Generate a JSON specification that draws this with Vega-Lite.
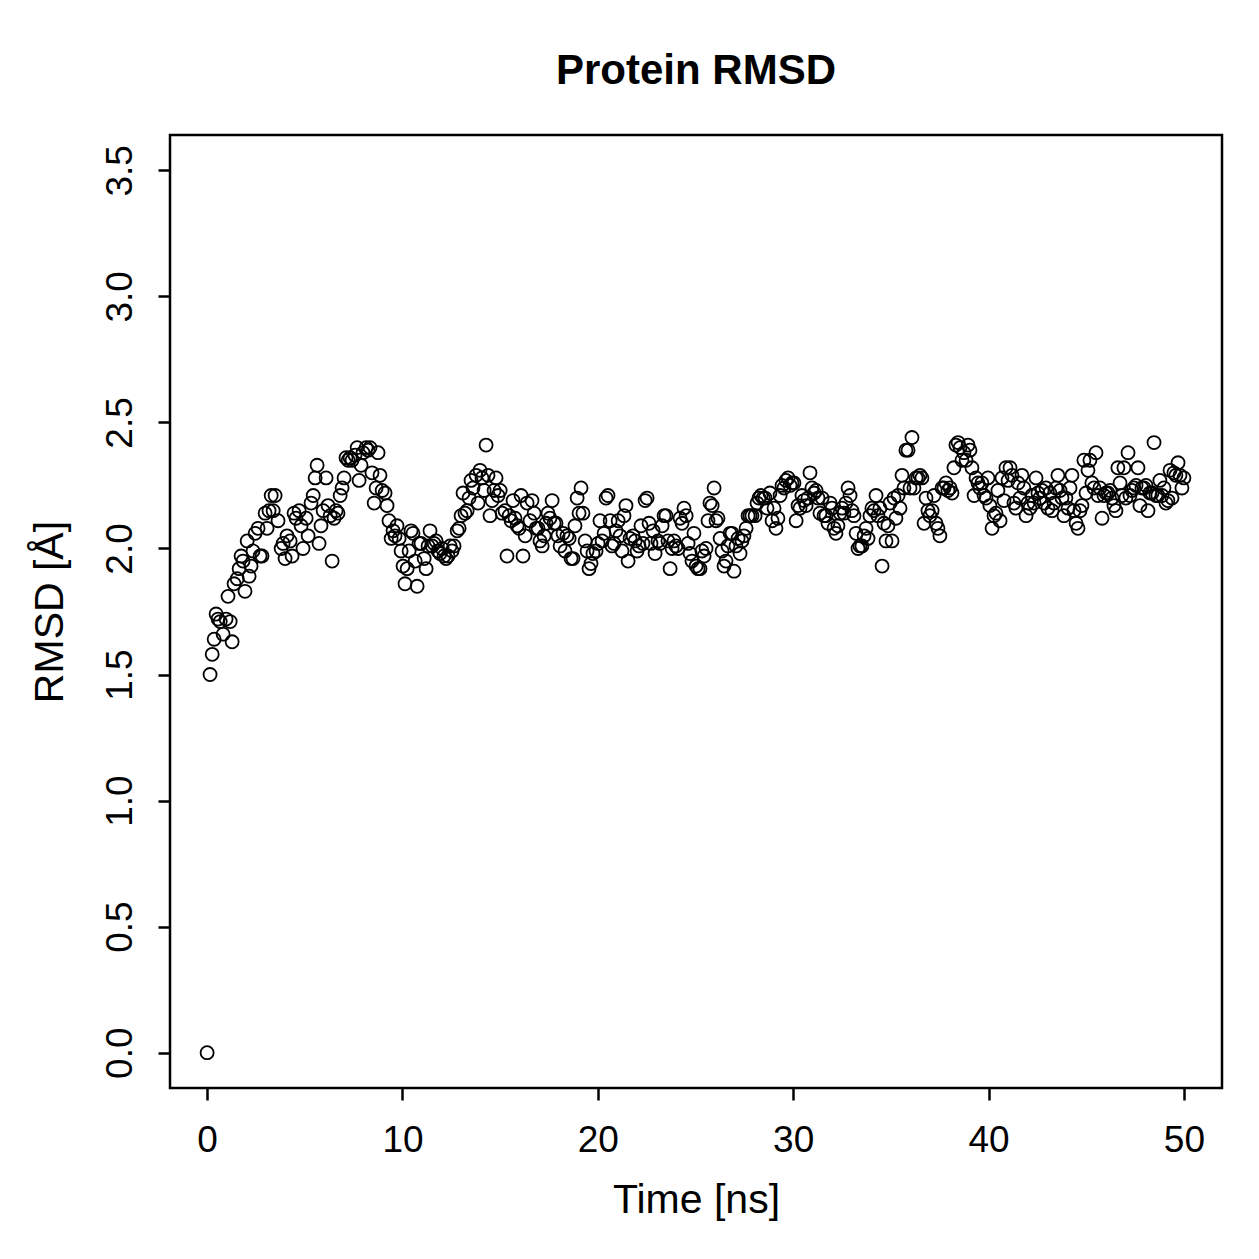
{
  "$schema": "https://vega.github.io/schema/vega-lite/v6.json",
  "width": 1052,
  "height": 953,
  "autosize": {"type": "none"},
  "padding": {"left": 170, "top": 135, "right": 37, "bottom": 171},
  "background": "white",
  "title": {
    "text": "Protein RMSD",
    "font": "Liberation Sans",
    "fontSize": 42,
    "fontWeight": "bold",
    "color": "black",
    "anchor": "middle",
    "offset": 42
  },
  "config": {
    "view": {"stroke": "black", "strokeWidth": 2.5},
    "axis": {
      "grid": false,
      "domain": false,
      "ticks": true,
      "tickColor": "black",
      "tickWidth": 2.5,
      "tickSize": 12,
      "labelFont": "Liberation Sans",
      "labelFontSize": 37,
      "labelColor": "black",
      "titleFont": "Liberation Sans",
      "titleFontSize": 41,
      "titleFontWeight": "normal",
      "titleColor": "black",
      "labelOverlap": false,
      "labelFlush": false
    }
  },
  "data": {
    "values": [
      {"t": 0, "r": 0.0}, {"t": 0.15, "r": 1.50}, {"t": 0.26, "r": 1.58}, {"t": 0.36, "r": 1.64}, {"t": 0.46, "r": 1.74},
      {"t": 0.56, "r": 1.72}, {"t": 0.67, "r": 1.71}, {"t": 0.82, "r": 1.66}, {"t": 0.97, "r": 1.72}, {"t": 1.07, "r": 1.81},
      {"t": 1.18, "r": 1.71}, {"t": 1.28, "r": 1.63}, {"t": 1.38, "r": 1.86}, {"t": 1.54, "r": 1.88}, {"t": 1.64, "r": 1.92},
      {"t": 1.74, "r": 1.97}, {"t": 1.84, "r": 1.95}, {"t": 1.94, "r": 1.83}, {"t": 2.05, "r": 2.03}, {"t": 2.15, "r": 1.89},
      {"t": 2.25, "r": 1.93}, {"t": 2.35, "r": 1.99}, {"t": 2.46, "r": 2.06}, {"t": 2.61, "r": 2.08}, {"t": 2.71, "r": 1.97},
      {"t": 2.81, "r": 1.97}, {"t": 2.97, "r": 2.14}, {"t": 3.07, "r": 2.08}, {"t": 3.17, "r": 2.15}, {"t": 3.28, "r": 2.21},
      {"t": 3.38, "r": 2.15}, {"t": 3.48, "r": 2.21}, {"t": 3.63, "r": 2.11}, {"t": 3.79, "r": 2.00}, {"t": 3.89, "r": 2.02},
      {"t": 3.99, "r": 1.96}, {"t": 4.09, "r": 2.05}, {"t": 4.25, "r": 2.03}, {"t": 4.35, "r": 1.97}, {"t": 4.45, "r": 2.14},
      {"t": 4.55, "r": 2.12}, {"t": 4.71, "r": 2.15}, {"t": 4.81, "r": 2.09}, {"t": 4.91, "r": 2.00}, {"t": 5.07, "r": 2.12},
      {"t": 5.17, "r": 2.05}, {"t": 5.32, "r": 2.18}, {"t": 5.43, "r": 2.21}, {"t": 5.53, "r": 2.28}, {"t": 5.63, "r": 2.33},
      {"t": 5.73, "r": 2.02}, {"t": 5.83, "r": 2.09}, {"t": 5.94, "r": 2.15}, {"t": 6.09, "r": 2.28}, {"t": 6.19, "r": 2.17},
      {"t": 6.30, "r": 2.13}, {"t": 6.40, "r": 1.95}, {"t": 6.50, "r": 2.12}, {"t": 6.60, "r": 2.15}, {"t": 6.70, "r": 2.14},
      {"t": 6.81, "r": 2.21}, {"t": 6.91, "r": 2.24}, {"t": 7.01, "r": 2.28}, {"t": 7.11, "r": 2.36}, {"t": 7.22, "r": 2.35},
      {"t": 7.32, "r": 2.36}, {"t": 7.42, "r": 2.35}, {"t": 7.57, "r": 2.37}, {"t": 7.68, "r": 2.40}, {"t": 7.78, "r": 2.27},
      {"t": 7.88, "r": 2.33}, {"t": 7.98, "r": 2.38}, {"t": 8.14, "r": 2.40}, {"t": 8.24, "r": 2.39}, {"t": 8.34, "r": 2.40},
      {"t": 8.44, "r": 2.30}, {"t": 8.55, "r": 2.18}, {"t": 8.65, "r": 2.24}, {"t": 8.75, "r": 2.38}, {"t": 8.85, "r": 2.29},
      {"t": 8.96, "r": 2.23}, {"t": 9.11, "r": 2.22}, {"t": 9.21, "r": 2.17}, {"t": 9.31, "r": 2.11}, {"t": 9.42, "r": 2.04},
      {"t": 9.52, "r": 2.07}, {"t": 9.62, "r": 2.05}, {"t": 9.72, "r": 2.09}, {"t": 9.83, "r": 2.04}, {"t": 9.93, "r": 1.99},
      {"t": 10.03, "r": 1.93}, {"t": 10.13, "r": 1.86}, {"t": 10.24, "r": 1.92}, {"t": 10.34, "r": 1.99}, {"t": 10.44, "r": 2.07},
      {"t": 10.54, "r": 2.06}, {"t": 10.65, "r": 1.95}, {"t": 10.75, "r": 1.85}, {"t": 10.85, "r": 2.02}, {"t": 10.95, "r": 2.02},
      {"t": 11.11, "r": 1.96}, {"t": 11.21, "r": 1.92}, {"t": 11.31, "r": 2.01}, {"t": 11.41, "r": 2.07}, {"t": 11.52, "r": 2.01},
      {"t": 11.62, "r": 2.02}, {"t": 11.72, "r": 2.03}, {"t": 11.82, "r": 1.99}, {"t": 11.92, "r": 1.98}, {"t": 12.03, "r": 2.00},
      {"t": 12.13, "r": 1.97}, {"t": 12.23, "r": 1.96}, {"t": 12.33, "r": 1.97}, {"t": 12.44, "r": 2.01}, {"t": 12.54, "r": 1.99},
      {"t": 12.64, "r": 2.01}, {"t": 12.80, "r": 2.07}, {"t": 12.90, "r": 2.08}, {"t": 13.00, "r": 2.13}, {"t": 13.10, "r": 2.22},
      {"t": 13.20, "r": 2.14}, {"t": 13.31, "r": 2.15}, {"t": 13.41, "r": 2.20}, {"t": 13.51, "r": 2.27}, {"t": 13.61, "r": 2.24},
      {"t": 13.77, "r": 2.29}, {"t": 13.87, "r": 2.18}, {"t": 13.97, "r": 2.31}, {"t": 14.07, "r": 2.28}, {"t": 14.18, "r": 2.23},
      {"t": 14.28, "r": 2.41}, {"t": 14.38, "r": 2.29}, {"t": 14.48, "r": 2.13}, {"t": 14.59, "r": 2.19}, {"t": 14.69, "r": 2.23},
      {"t": 14.79, "r": 2.28}, {"t": 14.89, "r": 2.21}, {"t": 15.00, "r": 2.23}, {"t": 15.10, "r": 2.14}, {"t": 15.25, "r": 2.15},
      {"t": 15.35, "r": 1.97}, {"t": 15.46, "r": 2.13}, {"t": 15.56, "r": 2.11}, {"t": 15.66, "r": 2.19}, {"t": 15.76, "r": 2.12},
      {"t": 15.87, "r": 2.09}, {"t": 15.97, "r": 2.08}, {"t": 16.07, "r": 2.21}, {"t": 16.17, "r": 1.97}, {"t": 16.28, "r": 2.05},
      {"t": 16.38, "r": 2.18}, {"t": 16.53, "r": 2.11}, {"t": 16.63, "r": 2.19}, {"t": 16.74, "r": 2.14}, {"t": 16.84, "r": 2.08},
      {"t": 16.94, "r": 2.08}, {"t": 17.04, "r": 2.03}, {"t": 17.15, "r": 2.01}, {"t": 17.25, "r": 2.05}, {"t": 17.35, "r": 2.10},
      {"t": 17.45, "r": 2.14}, {"t": 17.55, "r": 2.12}, {"t": 17.66, "r": 2.19}, {"t": 17.76, "r": 2.10}, {"t": 17.86, "r": 2.10},
      {"t": 17.96, "r": 2.05}, {"t": 18.07, "r": 2.01}, {"t": 18.22, "r": 2.06}, {"t": 18.32, "r": 1.99}, {"t": 18.42, "r": 2.05},
      {"t": 18.53, "r": 2.04}, {"t": 18.63, "r": 1.96}, {"t": 18.73, "r": 1.96}, {"t": 18.83, "r": 2.09}, {"t": 18.94, "r": 2.20},
      {"t": 19.04, "r": 2.14}, {"t": 19.14, "r": 2.24}, {"t": 19.24, "r": 2.14}, {"t": 19.35, "r": 2.03}, {"t": 19.45, "r": 1.99},
      {"t": 19.55, "r": 1.92}, {"t": 19.65, "r": 1.94}, {"t": 19.75, "r": 1.98}, {"t": 19.91, "r": 1.99}, {"t": 20.01, "r": 2.02},
      {"t": 20.11, "r": 2.11}, {"t": 20.22, "r": 2.03}, {"t": 20.32, "r": 2.06}, {"t": 20.42, "r": 2.20}, {"t": 20.52, "r": 2.21},
      {"t": 20.63, "r": 2.11}, {"t": 20.73, "r": 2.01}, {"t": 20.83, "r": 2.02}, {"t": 20.93, "r": 2.07}, {"t": 21.04, "r": 2.11},
      {"t": 21.14, "r": 2.05}, {"t": 21.24, "r": 1.99}, {"t": 21.34, "r": 2.13}, {"t": 21.44, "r": 2.17}, {"t": 21.55, "r": 1.95},
      {"t": 21.65, "r": 2.04}, {"t": 21.80, "r": 2.05}, {"t": 21.91, "r": 2.03}, {"t": 22.01, "r": 1.99}, {"t": 22.11, "r": 2.01},
      {"t": 22.21, "r": 2.09}, {"t": 22.31, "r": 2.02}, {"t": 22.42, "r": 2.19}, {"t": 22.52, "r": 2.20}, {"t": 22.62, "r": 2.10},
      {"t": 22.72, "r": 2.02}, {"t": 22.83, "r": 2.07}, {"t": 22.93, "r": 1.98}, {"t": 23.08, "r": 2.03}, {"t": 23.18, "r": 2.02},
      {"t": 23.29, "r": 2.09}, {"t": 23.39, "r": 2.13}, {"t": 23.49, "r": 2.13}, {"t": 23.59, "r": 2.03}, {"t": 23.70, "r": 1.92},
      {"t": 23.80, "r": 2.00}, {"t": 23.90, "r": 2.03}, {"t": 24.00, "r": 2.01}, {"t": 24.11, "r": 2.00}, {"t": 24.21, "r": 2.12},
      {"t": 24.31, "r": 2.10}, {"t": 24.41, "r": 2.16}, {"t": 24.52, "r": 2.13}, {"t": 24.62, "r": 2.02}, {"t": 24.72, "r": 1.98},
      {"t": 24.82, "r": 1.95}, {"t": 24.92, "r": 2.06}, {"t": 25.03, "r": 1.93}, {"t": 25.13, "r": 1.92}, {"t": 25.23, "r": 1.92},
      {"t": 25.33, "r": 1.99}, {"t": 25.44, "r": 1.97}, {"t": 25.54, "r": 2.00}, {"t": 25.64, "r": 2.11}, {"t": 25.74, "r": 2.18},
      {"t": 25.85, "r": 2.17}, {"t": 25.95, "r": 2.24}, {"t": 26.05, "r": 2.11}, {"t": 26.15, "r": 2.12}, {"t": 26.26, "r": 2.04},
      {"t": 26.36, "r": 1.99}, {"t": 26.46, "r": 1.93}, {"t": 26.56, "r": 1.95}, {"t": 26.66, "r": 2.01}, {"t": 26.77, "r": 2.06},
      {"t": 26.87, "r": 2.06}, {"t": 26.97, "r": 1.91}, {"t": 27.07, "r": 2.01}, {"t": 27.18, "r": 2.04}, {"t": 27.28, "r": 1.98},
      {"t": 27.38, "r": 2.03}, {"t": 27.48, "r": 2.05}, {"t": 27.59, "r": 2.08}, {"t": 27.69, "r": 2.13}, {"t": 27.79, "r": 2.13},
      {"t": 27.89, "r": 2.13}, {"t": 28.05, "r": 2.13}, {"t": 28.15, "r": 2.18}, {"t": 28.25, "r": 2.20}, {"t": 28.35, "r": 2.21},
      {"t": 28.46, "r": 2.20}, {"t": 28.56, "r": 2.20}, {"t": 28.66, "r": 2.16}, {"t": 28.81, "r": 2.22}, {"t": 28.92, "r": 2.11},
      {"t": 29.02, "r": 2.16}, {"t": 29.12, "r": 2.08}, {"t": 29.22, "r": 2.12}, {"t": 29.33, "r": 2.21}, {"t": 29.43, "r": 2.25},
      {"t": 29.53, "r": 2.24}, {"t": 29.63, "r": 2.27}, {"t": 29.74, "r": 2.28}, {"t": 29.84, "r": 2.25}, {"t": 29.94, "r": 2.26},
      {"t": 30.04, "r": 2.26}, {"t": 30.15, "r": 2.11}, {"t": 30.25, "r": 2.17}, {"t": 30.35, "r": 2.16}, {"t": 30.45, "r": 2.21},
      {"t": 30.55, "r": 2.19}, {"t": 30.66, "r": 2.17}, {"t": 30.76, "r": 2.20}, {"t": 30.86, "r": 2.30}, {"t": 30.96, "r": 2.24},
      {"t": 31.07, "r": 2.22}, {"t": 31.17, "r": 2.23}, {"t": 31.27, "r": 2.20}, {"t": 31.37, "r": 2.14}, {"t": 31.48, "r": 2.20},
      {"t": 31.58, "r": 2.13}, {"t": 31.68, "r": 2.13}, {"t": 31.78, "r": 2.10}, {"t": 31.89, "r": 2.18}, {"t": 31.99, "r": 2.16},
      {"t": 32.09, "r": 2.08}, {"t": 32.19, "r": 2.06}, {"t": 32.29, "r": 2.09}, {"t": 32.40, "r": 2.14}, {"t": 32.50, "r": 2.16},
      {"t": 32.60, "r": 2.14}, {"t": 32.70, "r": 2.18}, {"t": 32.81, "r": 2.24}, {"t": 32.91, "r": 2.21}, {"t": 33.01, "r": 2.15},
      {"t": 33.11, "r": 2.13}, {"t": 33.22, "r": 2.06}, {"t": 33.32, "r": 2.00}, {"t": 33.42, "r": 2.01}, {"t": 33.52, "r": 2.01},
      {"t": 33.63, "r": 2.05}, {"t": 33.73, "r": 2.08}, {"t": 33.83, "r": 2.04}, {"t": 33.93, "r": 2.13}, {"t": 34.03, "r": 2.16},
      {"t": 34.14, "r": 2.15}, {"t": 34.24, "r": 2.21}, {"t": 34.34, "r": 2.13}, {"t": 34.44, "r": 2.16}, {"t": 34.55, "r": 1.93},
      {"t": 34.65, "r": 2.10}, {"t": 34.75, "r": 2.03}, {"t": 34.85, "r": 2.09}, {"t": 34.96, "r": 2.18}, {"t": 35.06, "r": 2.03},
      {"t": 35.16, "r": 2.20}, {"t": 35.26, "r": 2.12}, {"t": 35.37, "r": 2.21}, {"t": 35.47, "r": 2.16}, {"t": 35.57, "r": 2.29},
      {"t": 35.67, "r": 2.24}, {"t": 35.77, "r": 2.39}, {"t": 35.88, "r": 2.39}, {"t": 35.98, "r": 2.24}, {"t": 36.08, "r": 2.44},
      {"t": 36.18, "r": 2.24}, {"t": 36.29, "r": 2.28}, {"t": 36.39, "r": 2.28}, {"t": 36.49, "r": 2.29}, {"t": 36.59, "r": 2.28},
      {"t": 36.70, "r": 2.10}, {"t": 36.80, "r": 2.20}, {"t": 36.90, "r": 2.15}, {"t": 37.00, "r": 2.13}, {"t": 37.11, "r": 2.15},
      {"t": 37.21, "r": 2.21}, {"t": 37.31, "r": 2.10}, {"t": 37.41, "r": 2.08}, {"t": 37.51, "r": 2.05}, {"t": 37.62, "r": 2.24},
      {"t": 37.72, "r": 2.24}, {"t": 37.82, "r": 2.26}, {"t": 37.92, "r": 2.23}, {"t": 38.03, "r": 2.24}, {"t": 38.13, "r": 2.22},
      {"t": 38.23, "r": 2.32}, {"t": 38.33, "r": 2.41}, {"t": 38.44, "r": 2.42}, {"t": 38.54, "r": 2.40}, {"t": 38.64, "r": 2.35},
      {"t": 38.74, "r": 2.38}, {"t": 38.85, "r": 2.35}, {"t": 38.95, "r": 2.41}, {"t": 39.05, "r": 2.39}, {"t": 39.15, "r": 2.32},
      {"t": 39.26, "r": 2.21}, {"t": 39.36, "r": 2.28}, {"t": 39.46, "r": 2.26}, {"t": 39.56, "r": 2.24}, {"t": 39.66, "r": 2.26},
      {"t": 39.77, "r": 2.21}, {"t": 39.87, "r": 2.20}, {"t": 39.97, "r": 2.28}, {"t": 40.07, "r": 2.17}, {"t": 40.18, "r": 2.08},
      {"t": 40.28, "r": 2.13}, {"t": 40.38, "r": 2.14}, {"t": 40.48, "r": 2.23}, {"t": 40.59, "r": 2.11}, {"t": 40.69, "r": 2.28},
      {"t": 40.79, "r": 2.19}, {"t": 40.89, "r": 2.32}, {"t": 41.00, "r": 2.27}, {"t": 41.10, "r": 2.32}, {"t": 41.20, "r": 2.29},
      {"t": 41.30, "r": 2.18}, {"t": 41.40, "r": 2.16}, {"t": 41.51, "r": 2.26}, {"t": 41.61, "r": 2.20}, {"t": 41.71, "r": 2.29},
      {"t": 41.81, "r": 2.24}, {"t": 41.92, "r": 2.13}, {"t": 42.02, "r": 2.18}, {"t": 42.12, "r": 2.16}, {"t": 42.22, "r": 2.21},
      {"t": 42.33, "r": 2.18}, {"t": 42.43, "r": 2.28}, {"t": 42.53, "r": 2.22}, {"t": 42.63, "r": 2.20}, {"t": 42.74, "r": 2.23},
      {"t": 42.84, "r": 2.18}, {"t": 42.94, "r": 2.24}, {"t": 43.04, "r": 2.16}, {"t": 43.14, "r": 2.22}, {"t": 43.25, "r": 2.15},
      {"t": 43.35, "r": 2.18}, {"t": 43.45, "r": 2.24}, {"t": 43.55, "r": 2.29}, {"t": 43.66, "r": 2.23}, {"t": 43.76, "r": 2.20},
      {"t": 43.86, "r": 2.13}, {"t": 43.96, "r": 2.20}, {"t": 44.07, "r": 2.16}, {"t": 44.17, "r": 2.24}, {"t": 44.27, "r": 2.29},
      {"t": 44.37, "r": 2.15}, {"t": 44.48, "r": 2.10}, {"t": 44.58, "r": 2.08}, {"t": 44.68, "r": 2.15}, {"t": 44.78, "r": 2.17},
      {"t": 44.88, "r": 2.35}, {"t": 44.99, "r": 2.22}, {"t": 45.09, "r": 2.31}, {"t": 45.19, "r": 2.35}, {"t": 45.29, "r": 2.26},
      {"t": 45.40, "r": 2.24}, {"t": 45.50, "r": 2.38}, {"t": 45.60, "r": 2.21}, {"t": 45.70, "r": 2.24}, {"t": 45.81, "r": 2.12},
      {"t": 45.91, "r": 2.21}, {"t": 46.01, "r": 2.22}, {"t": 46.11, "r": 2.22}, {"t": 46.22, "r": 2.23}, {"t": 46.32, "r": 2.20},
      {"t": 46.42, "r": 2.17}, {"t": 46.52, "r": 2.15}, {"t": 46.62, "r": 2.32}, {"t": 46.73, "r": 2.26}, {"t": 46.83, "r": 2.21},
      {"t": 46.93, "r": 2.32}, {"t": 47.03, "r": 2.20}, {"t": 47.14, "r": 2.38}, {"t": 47.24, "r": 2.21}, {"t": 47.34, "r": 2.23},
      {"t": 47.44, "r": 2.24}, {"t": 47.55, "r": 2.25}, {"t": 47.65, "r": 2.32}, {"t": 47.75, "r": 2.17}, {"t": 47.85, "r": 2.24},
      {"t": 47.96, "r": 2.24}, {"t": 48.06, "r": 2.25}, {"t": 48.16, "r": 2.15}, {"t": 48.26, "r": 2.22}, {"t": 48.37, "r": 2.22},
      {"t": 48.47, "r": 2.42}, {"t": 48.57, "r": 2.21}, {"t": 48.67, "r": 2.21}, {"t": 48.77, "r": 2.27}, {"t": 48.88, "r": 2.21},
      {"t": 48.98, "r": 2.24}, {"t": 49.08, "r": 2.18}, {"t": 49.18, "r": 2.19}, {"t": 49.29, "r": 2.31}, {"t": 49.39, "r": 2.20},
      {"t": 49.49, "r": 2.30}, {"t": 49.59, "r": 2.29}, {"t": 49.70, "r": 2.34}, {"t": 49.80, "r": 2.29}, {"t": 49.90, "r": 2.24},
      {"t": 50.00, "r": 2.28}
    ]
  },
  "mark": {
    "type": "point",
    "shape": "circle",
    "filled": false,
    "stroke": "black",
    "strokeWidth": 1.8,
    "size": 170,
    "opacity": 1
  },
  "encoding": {
    "x": {
      "field": "t",
      "type": "quantitative",
      "scale": {"domain": [-1.9, 51.95], "nice": false, "zero": false},
      "axis": {
        "title": "Time [ns]",
        "values": [0, 10, 20, 30, 40, 50],
        "labelPadding": 22,
        "titlePadding": 22
      }
    },
    "y": {
      "field": "r",
      "type": "quantitative",
      "scale": {"domain": [-0.14, 3.64], "nice": false, "zero": false},
      "axis": {
        "title": "RMSD [Å]",
        "values": [0, 0.5, 1, 1.5, 2, 2.5, 3, 3.5],
        "format": ".1f",
        "labelAngle": -90,
        "labelAlign": "center",
        "labelBaseline": "bottom",
        "labelPadding": 19,
        "titlePadding": 30
      }
    }
  }
}
